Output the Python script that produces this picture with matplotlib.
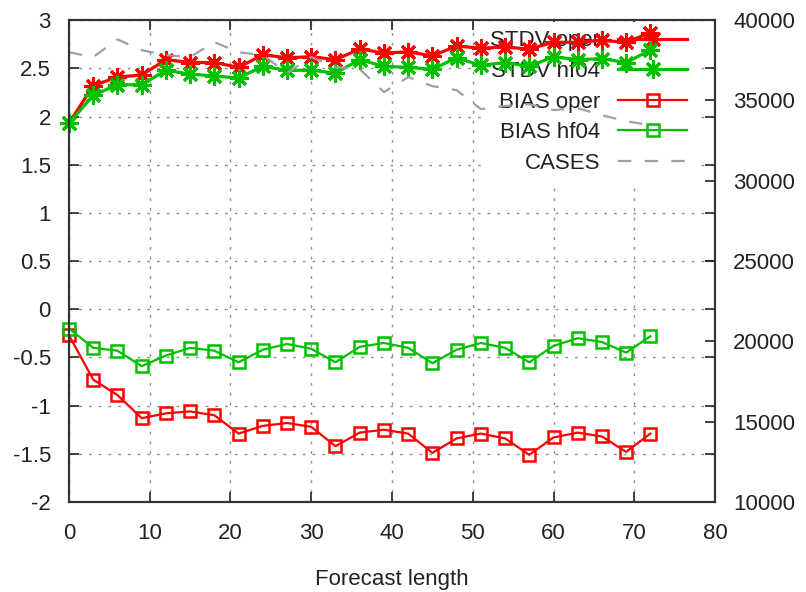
import numpy as np
import matplotlib
matplotlib.use('Agg')
import matplotlib.pyplot as plt

plt.rcParams['font.family'] = ['Liberation Sans', 'DejaVu Sans']

# forecast length (hours)
lead = [0, 3, 6, 9, 12, 15, 18, 21, 24, 27, 30, 33, 36, 39, 42, 45, 48,
        51, 54, 57, 60, 63, 66, 69, 72]

stdv_oper = [1.93, 2.32, 2.41, 2.43, 2.59, 2.56, 2.56, 2.51, 2.64, 2.61, 2.62,
             2.59, 2.70, 2.66, 2.67, 2.63, 2.73, 2.71, 2.72, 2.70, 2.77, 2.77,
             2.79, 2.77, 2.87]
stdv_hf04 = [1.93, 2.22, 2.33, 2.33, 2.48, 2.44, 2.42, 2.40, 2.52, 2.48, 2.48,
             2.45, 2.59, 2.52, 2.51, 2.49, 2.61, 2.53, 2.56, 2.52, 2.62, 2.59,
             2.60, 2.56, 2.69]
bias_oper = [-0.27, -0.73, -0.89, -1.13, -1.08, -1.06, -1.10, -1.29, -1.21,
             -1.18, -1.22, -1.42, -1.28, -1.25, -1.29, -1.49, -1.34, -1.29,
             -1.34, -1.51, -1.33, -1.28, -1.32, -1.48, -1.29]
bias_hf04 = [-0.20, -0.40, -0.43, -0.59, -0.48, -0.40, -0.43, -0.55, -0.42,
             -0.36, -0.41, -0.55, -0.39, -0.35, -0.40, -0.56, -0.42, -0.35,
             -0.40, -0.55, -0.38, -0.30, -0.34, -0.45, -0.28]
cases = [38000, 37700, 38800, 38130, 37820, 37700, 38630, 38000, 37820, 36700,
         37700, 37070, 36950, 35520, 36450, 35890, 35640, 34460, 34650, 34770,
         34400, 34520, 34080, 33710, 33460]

red = '#ff0000'
green = '#00c000'
star = (8, 2, 0)
fs = 16

fig = plt.figure(figsize=(8.06, 5.92), dpi=100)
ax = fig.add_axes([0.0856, 0.152, 0.8015, 0.814])
ax2 = ax.twinx()

l1, = ax.plot(lead, stdv_oper, color=red, lw=2.3, marker=star, ms=13, mew=2.2,
              label='STDV oper', clip_on=False, zorder=3)
l2, = ax.plot(lead, stdv_hf04, color=green, lw=2.3, marker=star, ms=13, mew=2.2,
              label='STDV hf04', clip_on=False, zorder=3)
l3, = ax.plot(lead, bias_oper, color=red, lw=1.6, marker='s', ms=8.5, mew=1.8,
              mfc='none', label='BIAS oper', clip_on=False, zorder=3)
l4, = ax.plot(lead, bias_hf04, color=green, lw=1.6, marker='s', ms=8.5, mew=1.8,
              mfc='none', label='BIAS hf04', clip_on=False, zorder=3)
l5, = ax2.plot(lead, cases, color='#a0a0a0', lw=1.6, ls=(0, (6, 6)),
               label='CASES')

ax.set_xlim(0, 80)
ax.set_ylim(-2, 3)
ax2.set_ylim(10000, 40000)
ax.set_xticks(np.arange(0, 81, 10))
ax.set_yticks(np.arange(-2, 3.01, 0.5))
ax.set_yticklabels(['-2', '-1.5', '-1', '-0.5', '0', '0.5', '1', '1.5', '2',
                    '2.5', '3'])
ax2.set_yticks(np.arange(10000, 40001, 5000))

ax.set_axisbelow(True)
ax.grid(True, color='#909090', ls=(0, (2, 5)), lw=1.0)
ax.tick_params(direction='in', length=7, width=1.2, labelsize=fs, pad=13,
               top=True, right=True, colors='#222222')
ax.tick_params(axis='x', pad=15)
ax2.tick_params(direction='in', length=7, width=1.2, labelsize=fs, pad=13,
                colors='#222222')
for a in (ax, ax2):
    for s in a.spines.values():
        s.set_linewidth(1.5)
        s.set_color('#333333')

ax.set_xlabel('Forecast length', fontsize=fs, labelpad=18, color='#222222')

leg = ax.legend([l1, l2, l3, l4, l5],
                ['STDV oper', 'STDV hf04', 'BIAS oper', 'BIAS hf04', 'CASES'],
                loc='upper right', bbox_to_anchor=(0.9706, 0.997),
                markerfirst=False, frameon=True, numpoints=1,
                fontsize=fs, handlelength=3.1, labelspacing=0.43,
                borderaxespad=0, borderpad=0.4, handletextpad=0.8,
                fancybox=False)
leg.get_frame().set_facecolor('white')
leg.get_frame().set_edgecolor('none')
leg.get_frame().set_alpha(1)
leg.set_zorder(1)
for t in leg.get_texts():
    t.set_color('#222222')

plt.savefig('out.png', dpi=100)
